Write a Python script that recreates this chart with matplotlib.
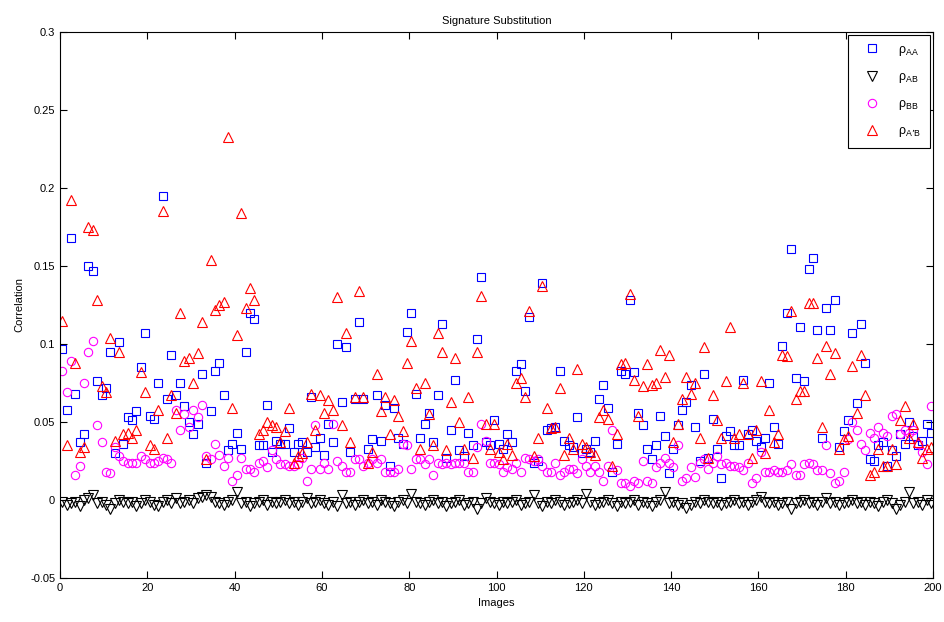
import numpy as np
import matplotlib
matplotlib.use("Agg")
import matplotlib.pyplot as plt

plt.rcParams['font.family'] = ['Liberation Sans', 'DejaVu Sans']
plt.rcParams['mathtext.default'] = 'regular'

# values, image 1..200
rho_aa = [
    0.097, 0.058, 0.168, 0.068, 0.037, 0.042, 0.150, 0.147, 0.076, 0.067,
    0.072, 0.095, 0.030, 0.101, 0.036, 0.053, 0.051, 0.057, 0.085, 0.107,
    0.054, 0.052, 0.075, 0.195, 0.065, 0.093, 0.067, 0.075, 0.060, 0.050,
    0.042, 0.049, 0.081, 0.024, 0.057, 0.083, 0.088, 0.067, 0.032, 0.036,
    0.043, 0.033, 0.095, 0.120, 0.116, 0.035, 0.035, 0.061, 0.031, 0.038,
    0.036, 0.036, 0.046, 0.031, 0.036, 0.037, 0.031, 0.066, 0.034, 0.040,
    0.029, 0.049, 0.037, 0.100, 0.063, 0.098, 0.031, 0.065, 0.114, 0.065,
    0.033, 0.039, 0.067, 0.038, 0.061, 0.022, 0.059, 0.040, 0.036, 0.108,
    0.120, 0.068, 0.040, 0.049, 0.056, 0.037, 0.067, 0.113, 0.027, 0.045,
    0.077, 0.032, 0.028, 0.043, 0.035, 0.103, 0.143, 0.037, 0.035, 0.051,
    0.036, 0.033, 0.042, 0.037, 0.083, 0.087, 0.070, 0.117, 0.024, 0.025,
    0.139, 0.045, 0.046, 0.047, 0.083, 0.038, 0.035, 0.034, 0.053, 0.030,
    0.033, 0.031, 0.038, 0.065, 0.074, 0.059, 0.018, 0.036, 0.083, 0.081,
    0.128, 0.082, 0.056, 0.048, 0.033, 0.026, 0.035, 0.054, 0.041, 0.017,
    0.033, 0.048, 0.058, 0.063, 0.074, 0.047, 0.025, 0.081, 0.027, 0.052,
    0.033, 0.014, 0.041, 0.044, 0.035, 0.035, 0.077, 0.042, 0.045, 0.038,
    0.034, 0.040, 0.075, 0.047, 0.036, 0.099, 0.120, 0.161, 0.078, 0.111,
    0.076, 0.148, 0.155, 0.109, 0.040, 0.123, 0.109, 0.128, 0.034, 0.044,
    0.051, 0.107, 0.062, 0.113, 0.088, 0.026, 0.025, 0.035, 0.037, 0.022,
    0.032, 0.028, 0.042, 0.036, 0.050, 0.041, 0.035, 0.038, 0.049, 0.043,
]

rho_ab = [
    -0.001, -0.003, -0.002, -0.001, -0.004, 0.000, 0.001, 0.003, -0.002, -0.001,
    -0.003, -0.006, -0.002, 0.000, -0.001, -0.002, -0.001, -0.004, -0.002, 0.000,
    -0.001, -0.003, -0.004, -0.001, 0.000, -0.002, 0.001, -0.002, -0.001, 0.000,
    -0.002, 0.001, 0.002, 0.003, 0.002, -0.001, -0.002, -0.003, -0.001, 0.000,
    0.005, -0.002, -0.001, -0.004, -0.002, -0.001, 0.000, -0.003, -0.001, -0.002,
    -0.001, 0.000, -0.002, -0.001, -0.003, -0.001, 0.001, -0.002, -0.001, 0.000,
    -0.002, -0.003, -0.001, -0.004, 0.003, -0.002, -0.001, -0.003, -0.001, 0.000,
    -0.002, -0.001, -0.003, 0.000, -0.001, -0.002, -0.004, -0.001, 0.000, -0.002,
    0.004, -0.001, -0.002, -0.003, -0.001, 0.000, -0.002, -0.001, -0.004, -0.002,
    -0.001, 0.000, -0.003, -0.002, -0.001, -0.006, -0.002, 0.001, -0.001, -0.002,
    -0.003, -0.001, -0.002, -0.001, 0.000, -0.003, -0.002, -0.001, 0.003, -0.002,
    -0.004, -0.001, -0.002, 0.000, -0.001, -0.003, -0.002, -0.001, 0.000, -0.002,
    0.004, -0.001, -0.003, -0.002, -0.001, 0.000, -0.002, -0.004, -0.001, -0.002,
    -0.001, 0.000, -0.003, -0.001, -0.002, -0.004, -0.001, 0.000, 0.005, -0.002,
    -0.001, -0.003, -0.002, -0.005, -0.003, -0.001, -0.002, 0.000, -0.001, -0.002,
    -0.001, -0.003, -0.002, -0.001, 0.000, -0.002, -0.001, -0.003, -0.001, 0.000,
    0.002, -0.001, -0.002, -0.001, -0.003, -0.002, -0.001, -0.006, -0.002, -0.001,
    0.000, -0.002, -0.001, -0.003, -0.001, 0.001, -0.002, -0.001, -0.003, -0.002,
    -0.001, 0.000, -0.002, -0.001, -0.003, -0.001, -0.002, -0.004, -0.001, 0.000,
    -0.002, -0.006, -0.003, -0.001, 0.005, -0.002, -0.001, -0.003, 0.000, -0.002,
]

rho_bb = [
    0.083, 0.069, 0.089, 0.016, 0.022, 0.075, 0.095, 0.102, 0.048, 0.037,
    0.018, 0.017, 0.034, 0.028, 0.025, 0.024, 0.024, 0.024, 0.028, 0.026,
    0.024, 0.024, 0.025, 0.027, 0.026, 0.024, 0.058, 0.045, 0.055, 0.047,
    0.058, 0.053, 0.061, 0.028, 0.026, 0.036, 0.029, 0.022, 0.027, 0.012,
    0.016, 0.027, 0.020, 0.020, 0.018, 0.024, 0.025, 0.021, 0.032, 0.026,
    0.023, 0.023, 0.022, 0.022, 0.023, 0.027, 0.012, 0.020, 0.048, 0.020,
    0.024, 0.020, 0.049, 0.025, 0.022, 0.018, 0.018, 0.026, 0.026, 0.022,
    0.024, 0.026, 0.024, 0.026, 0.018, 0.018, 0.018, 0.020, 0.036, 0.035,
    0.020, 0.026, 0.026, 0.023, 0.026, 0.016, 0.024, 0.023, 0.024, 0.023,
    0.024, 0.024, 0.024, 0.018, 0.018, 0.034, 0.049, 0.038, 0.024, 0.024,
    0.023, 0.018, 0.021, 0.020, 0.024, 0.018, 0.027, 0.026, 0.025, 0.026,
    0.022, 0.018, 0.018, 0.024, 0.016, 0.018, 0.020, 0.020, 0.017, 0.026,
    0.022, 0.018, 0.022, 0.018, 0.012, 0.022, 0.045, 0.019, 0.011, 0.011,
    0.009, 0.012, 0.011, 0.025, 0.012, 0.011, 0.021, 0.024, 0.027, 0.024,
    0.021, 0.035, 0.012, 0.014, 0.021, 0.015, 0.024, 0.026, 0.020, 0.024,
    0.028, 0.023, 0.024, 0.022, 0.022, 0.021, 0.019, 0.024, 0.011, 0.014,
    0.031, 0.018, 0.018, 0.019, 0.018, 0.018, 0.019, 0.023, 0.016, 0.016,
    0.023, 0.024, 0.023, 0.019, 0.019, 0.035, 0.017, 0.011, 0.012, 0.018,
    0.039, 0.050, 0.045, 0.036, 0.032, 0.043, 0.040, 0.047, 0.043, 0.041,
    0.054, 0.055, 0.042, 0.045, 0.043, 0.045, 0.036, 0.031, 0.023, 0.060,
]

rho_apb = [
    0.115, 0.035, 0.192, 0.088, 0.031, 0.034, 0.175, 0.173, 0.128, 0.073,
    0.069, 0.104, 0.038, 0.095, 0.042, 0.043, 0.040, 0.045, 0.082, 0.069,
    0.035, 0.033, 0.058, 0.185, 0.040, 0.067, 0.056, 0.120, 0.089, 0.091,
    0.075, 0.094, 0.114, 0.026, 0.154, 0.122, 0.125, 0.127, 0.233, 0.059,
    0.106, 0.184, 0.123, 0.136, 0.128, 0.042, 0.045, 0.050, 0.048, 0.047,
    0.037, 0.044, 0.059, 0.024, 0.028, 0.030, 0.037, 0.068, 0.045, 0.067,
    0.056, 0.064, 0.058, 0.130, 0.048, 0.107, 0.037, 0.066, 0.134, 0.066,
    0.024, 0.031, 0.081, 0.057, 0.066, 0.042, 0.064, 0.054, 0.044, 0.088,
    0.102, 0.072, 0.033, 0.075, 0.055, 0.035, 0.107, 0.095, 0.032, 0.063,
    0.091, 0.050, 0.033, 0.066, 0.027, 0.095, 0.131, 0.049, 0.033, 0.049,
    0.031, 0.026, 0.036, 0.029, 0.075, 0.078, 0.066, 0.121, 0.028, 0.040,
    0.137, 0.059, 0.046, 0.047, 0.072, 0.029, 0.040, 0.033, 0.084, 0.036,
    0.034, 0.031, 0.029, 0.053, 0.058, 0.052, 0.022, 0.042, 0.087, 0.088,
    0.132, 0.077, 0.054, 0.073, 0.087, 0.074, 0.075, 0.096, 0.079, 0.093,
    0.037, 0.049, 0.065, 0.079, 0.068, 0.075, 0.040, 0.098, 0.027, 0.067,
    0.051, 0.040, 0.076, 0.111, 0.040, 0.042, 0.075, 0.042, 0.027, 0.045,
    0.076, 0.030, 0.058, 0.037, 0.042, 0.093, 0.092, 0.121, 0.065, 0.070,
    0.070, 0.126, 0.126, 0.091, 0.047, 0.099, 0.081, 0.094, 0.033, 0.039,
    0.041, 0.086, 0.056, 0.093, 0.067, 0.016, 0.018, 0.033, 0.022, 0.022,
    0.033, 0.023, 0.051, 0.060, 0.040, 0.049, 0.037, 0.027, 0.033, 0.034,
]

# points sit at image number, slightly shifted like the original
images = np.arange(1, len(rho_aa) + 1) - 0.5

fig = plt.figure(figsize=(9.44, 6.22), dpi=100)
ax = fig.add_axes([0.0636, 0.0707, 0.9248, 0.8779])

ms = 6
mew = 0.8
ax.plot(images, rho_aa, linestyle='none', marker='s', markersize=ms,
        markerfacecolor='none', markeredgecolor='#0000ff', markeredgewidth=mew,
        label=r'$\rho_{AA}$')
ax.plot(images, rho_ab, linestyle='none', marker='v', markersize=ms + 1,
        markerfacecolor='none', markeredgecolor='black', markeredgewidth=mew,
        label=r'$\rho_{AB}$')
ax.plot(images, rho_bb, linestyle='none', marker='o', markersize=ms,
        markerfacecolor='none', markeredgecolor='#ff00ff', markeredgewidth=mew,
        label=r'$\rho_{BB}$')
ax.plot(images, rho_apb, linestyle='none', marker='^', markersize=ms + 1,
        markerfacecolor='none', markeredgecolor='#ff0000', markeredgewidth=mew,
        label='$\\rho_{A\u2019B}$')

ax.set_xlim(0, 200)
ax.set_ylim(-0.05, 0.3)
ax.set_xticks(np.arange(0, 201, 20))
ax.set_yticks(np.arange(-0.05, 0.301, 0.05))
ax.set_yticklabels(['-0.05', '0', '0.05', '0.1', '0.15', '0.2', '0.25', '0.3'])
ax.tick_params(direction='in', top=True, right=True, labelsize=8, length=5)

ax.set_title('Signature Substitution', fontsize=8)
ax.set_xlabel('Images', fontsize=8)
ax.set_ylabel('Correlation', fontsize=8)

leg = ax.legend(loc='upper right', fontsize=9, frameon=True, fancybox=False,
                edgecolor='black', framealpha=1, handletextpad=0.9,
                borderpad=0.7, labelspacing=1.05, handlelength=2.4,
                borderaxespad=0.25)
leg.get_frame().set_linewidth(0.8)

fig.savefig('out.png', dpi=100)
